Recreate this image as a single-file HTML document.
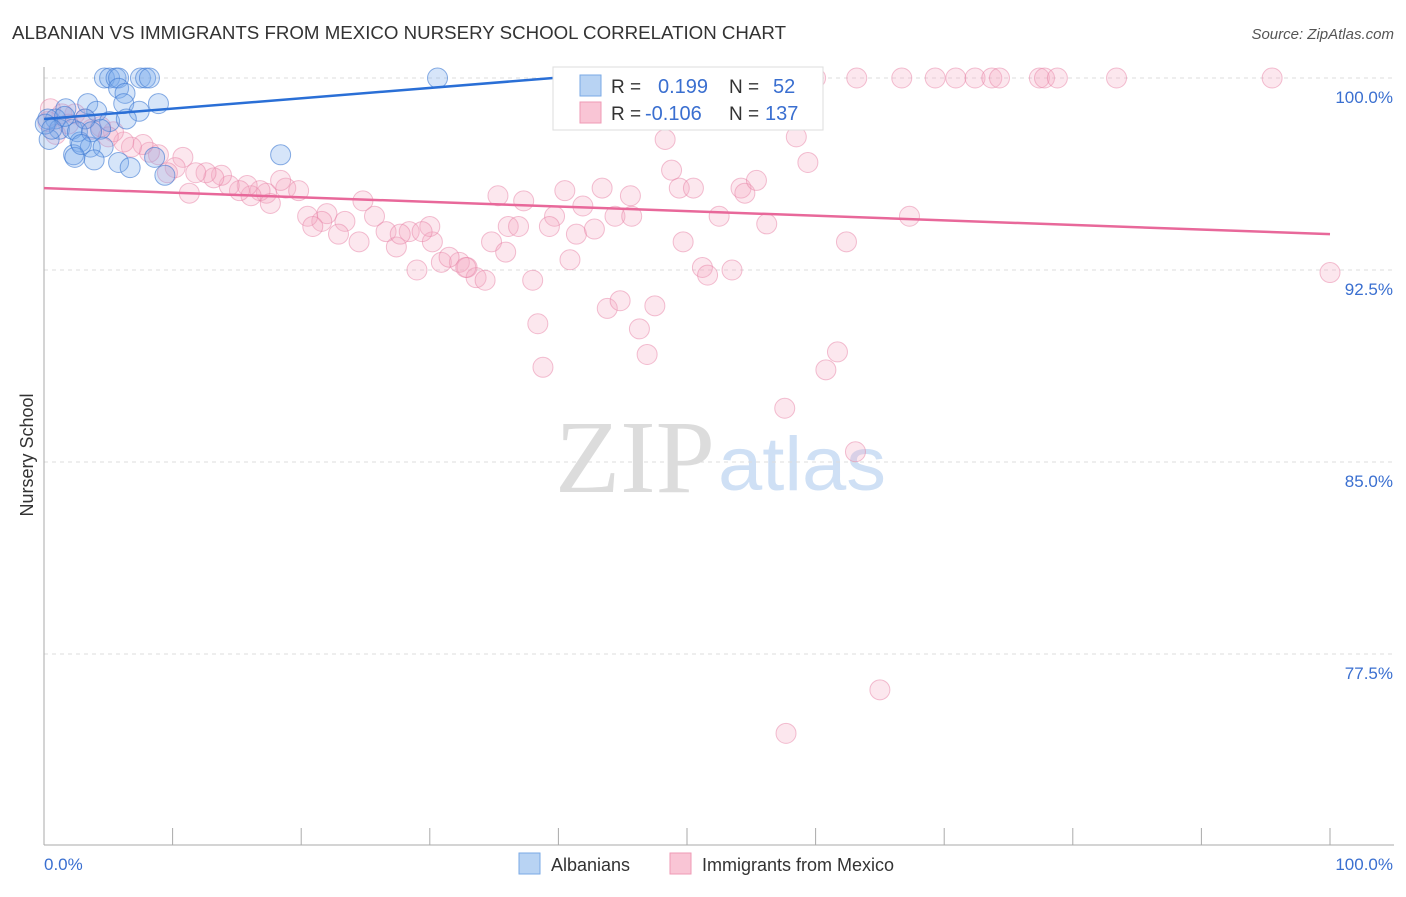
<!DOCTYPE html>
<html><head><meta charset="utf-8"><style>
body{margin:0;background:#fff;font-family:"Liberation Sans",sans-serif;}
svg text{font-family:"Liberation Sans",sans-serif;}
</style></head><body>
<svg id="chart" width="1406" height="892" viewBox="0 0 1406 892" xmlns="http://www.w3.org/2000/svg">
<text x="12" y="39" font-size="18" fill="#333" textLength="774" lengthAdjust="spacingAndGlyphs">ALBANIAN VS IMMIGRANTS FROM MEXICO NURSERY SCHOOL CORRELATION CHART</text>
<text x="1394" y="39" font-size="15" fill="#555" text-anchor="end" font-style="italic">Source: ZipAtlas.com</text>
<g>
<text x="555" y="492" font-size="104" fill="#dcdcdc" textLength="160" lengthAdjust="spacingAndGlyphs" style="font-family:'Liberation Serif',serif">ZIP</text>
<text x="718" y="490" font-size="76" fill="#cfe0f5" textLength="168" lengthAdjust="spacingAndGlyphs">atlas</text>
</g>
<g id="grid"></g>
<g id="axes"></g>
<g id="pts"></g>
<g id="trends"></g>
<g>
<rect x="553" y="67" width="270" height="63" fill="#fff" stroke="#ddd"/>
<rect x="580" y="75" width="21" height="21" fill="#b8d3f3" stroke="#7aaae6"/>
<rect x="580" y="102" width="21" height="21" fill="#f9c5d5" stroke="#ef9ab5"/>
<text x="611" y="93" font-size="19" fill="#333">R =</text>
<text x="658" y="93" font-size="20" fill="#3a6fd0">0.199</text>
<text x="729" y="93" font-size="19" fill="#333">N =</text>
<text x="773" y="93" font-size="20" fill="#3a6fd0">52</text>
<text x="611" y="120" font-size="19" fill="#333">R =</text>
<text x="645" y="120" font-size="20" fill="#3a6fd0">-0.106</text>
<text x="729" y="120" font-size="19" fill="#333">N =</text>
<text x="765" y="120" font-size="20" fill="#3a6fd0">137</text>
</g>
<g>
<rect x="519" y="853" width="21" height="21" fill="#b8d3f3" stroke="#7aaae6"/>
<text x="551" y="871" font-size="18" fill="#333">Albanians</text>
<rect x="670" y="853" width="21" height="21" fill="#f9c5d5" stroke="#ef9ab5"/>
<text x="702" y="871" font-size="18" fill="#333">Immigrants from Mexico</text>
</g>
<text transform="translate(33,455) rotate(-90)" font-size="18" fill="#333" text-anchor="middle">Nursery School</text>
</svg>
<script>
const yTicks=[100,92.5,85,77.5];
const yTickLabels=["100.0%","92.5%","85.0%","77.5%"];
const xTickVals=[0,10,20,30,40,50,60,70,80,90,100];
const blueX=[4.7,5.1,5.6,5.8,7.5,7.9,8.2,30.6,5.8,6.3,6.2,7.4,8.9,3.4,4.1,1.7,0.9,0.3,1.2,2.2,5.1,4.4,2.8,3.6,4.6,2.3,3.9,5.8,6.7,8.6,9.4,18.4,0.4,0.1,1.6,3.2,0.6,2.6,3.7,6.4,2.4,2.9];
const blueY=[100,100,100,100,100,100,100,100,99.6,99.4,99.0,98.7,99.0,99.0,98.7,98.8,98.4,98.4,98.0,98.0,98.3,98.0,97.5,97.3,97.3,97.0,96.8,96.7,96.5,96.9,96.2,97.0,97.6,98.2,98.5,98.4,98.0,97.9,97.9,98.4,96.9,97.4];
const pinkX=[47.9,54.9,55.7,60,63.2,66.7,69.3,70.9,72.4,73.7,74.3,77.4,77.8,78.8,83.4,95.5,50.8,48.3,58.5,59.4,48.8,49.4,50.5,54.2,54.5,55.4,67.3,52.5,56.2,49.7,62.4,51.2,51.6,53.5,100,57.6,60.8,61.7,63.1,65,57.7,
35.3,37.3,40.5,41.9,43.4,45.6,44.4,45.7,39.7,36.1,36.9,39.3,41.4,42.8,34.8,35.9,40.9,38.0,43.8,44.8,47.5,46.3,46.9,38.4,38.8,29.0,30.9,32.3,32.9,33.6,34.3,30.2,27.4,28.4,26.6,25.7,24.8,23.4,24.5,22.9,22.0,21.6,20.5,20.9,18.8,19.8,18.4,17.3,16.8,16.1,17.6,15.8,15.2,14.4,13.8,13.2,12.6,11.8,11.3,10.8,10.2,9.6,8.9,8.2,7.7,6.8,6.2,5.4,4.4,3.7,3.2,2.4,1.4,0.5,0.3,1.9,0.9,5.0,30.0,29.4,27.7,31.5,32.8];
const pinkY=[100,100,100,100,100,100,100,100,100,100,100,100,100,100,100,100,98.4,97.6,97.7,96.7,96.4,95.7,95.7,95.7,95.5,96.0,94.6,94.6,94.3,93.6,93.6,92.6,92.3,92.5,92.4,87.1,88.6,89.3,85.4,76.1,74.4,
95.4,95.2,95.6,95.0,95.7,95.4,94.6,94.6,94.6,94.2,94.2,94.2,93.9,94.1,93.6,93.2,92.9,92.1,91.0,91.3,91.1,90.2,89.2,90.4,88.7,92.5,92.8,92.8,92.6,92.2,92.1,93.6,93.4,94.0,94.0,94.6,95.2,94.4,93.6,93.9,94.7,94.4,94.6,94.2,95.7,95.6,96.0,95.5,95.6,95.4,95.1,95.8,95.6,95.8,96.2,96.1,96.3,96.3,95.5,96.9,96.5,96.3,97.0,97.1,97.4,97.3,97.5,97.9,98.1,98.0,98.4,98.6,98.6,98.8,98.3,98.2,97.8,97.7,94.2,94.0,93.9,93.0,92.6];
const blueTrend=[98.4,100,0,39.6];
const pinkTrend=[95.7,93.9,0,100];
const NS="http://www.w3.org/2000/svg";
const X=v=>44+v*12.86;
const Y=v=>78+(100-v)*25.6;
function mk(t,a,p){const e=document.createElementNS(NS,t);for(const k in a)e.setAttribute(k,a[k]);p.appendChild(e);return e;}
const grid=document.getElementById('grid'),axes=document.getElementById('axes'),pts=document.getElementById('pts'),tr=document.getElementById('trends');
yTicks.forEach((v,i)=>{
 const l=mk('line',{x1:44,x2:1394,y1:Y(v),y2:Y(v),stroke:'#ddd','stroke-dasharray':'4,4'},grid);
 
 
 const t=mk('text',{x:1393,y:Y(v)+25,'font-size':17,fill:'#3a6fd0','text-anchor':'end'},axes);
 t.textContent=yTickLabels[i];
 
 
});
const ya=mk('line',{x1:44,x2:44,y1:67,y2:845,stroke:'#aaa'},axes);


const xa=mk('line',{x1:44,x2:1394,y1:845,y2:845,stroke:'#aaa'},axes);


xTickVals.forEach(v=>{
 const t=mk('line',{x1:X(v),x2:X(v),y1:828,y2:845,stroke:'#aaa'},axes);
 
 
});
const xl0=mk('text',{x:44,y:870,'font-size':17,fill:'#3a6fd0'},axes);xl0.textContent='0.0%';


const xl1=mk('text',{x:1393,y:870,'font-size':17,fill:'#3a6fd0','text-anchor':'end'},axes);xl1.textContent='100.0%';


pinkX.forEach((v,i)=>{
 const c=mk('circle',{cx:X(v),cy:Y(pinkY[i]),r:10,fill:'rgba(246,170,195,0.28)',stroke:'rgba(232,130,165,0.5)','stroke-width':1},pts);
 
 
});
blueX.forEach((v,i)=>{
 const c=mk('circle',{cx:X(v),cy:Y(blueY[i]),r:10,fill:'rgba(120,170,235,0.3)',stroke:'rgba(60,120,210,0.6)','stroke-width':1},pts);
 
 
});
const bl=mk('line',{x1:X(blueTrend[2]),y1:Y(blueTrend[0]),x2:X(blueTrend[3]),y2:Y(blueTrend[1]),stroke:'#2a6fd6','stroke-width':2.5},tr);


const pl=mk('line',{x1:X(pinkTrend[2]),y1:Y(pinkTrend[0]),x2:X(pinkTrend[3]),y2:Y(pinkTrend[1]),stroke:'#e8689a','stroke-width':2.5},tr);


</script>
</body></html>
